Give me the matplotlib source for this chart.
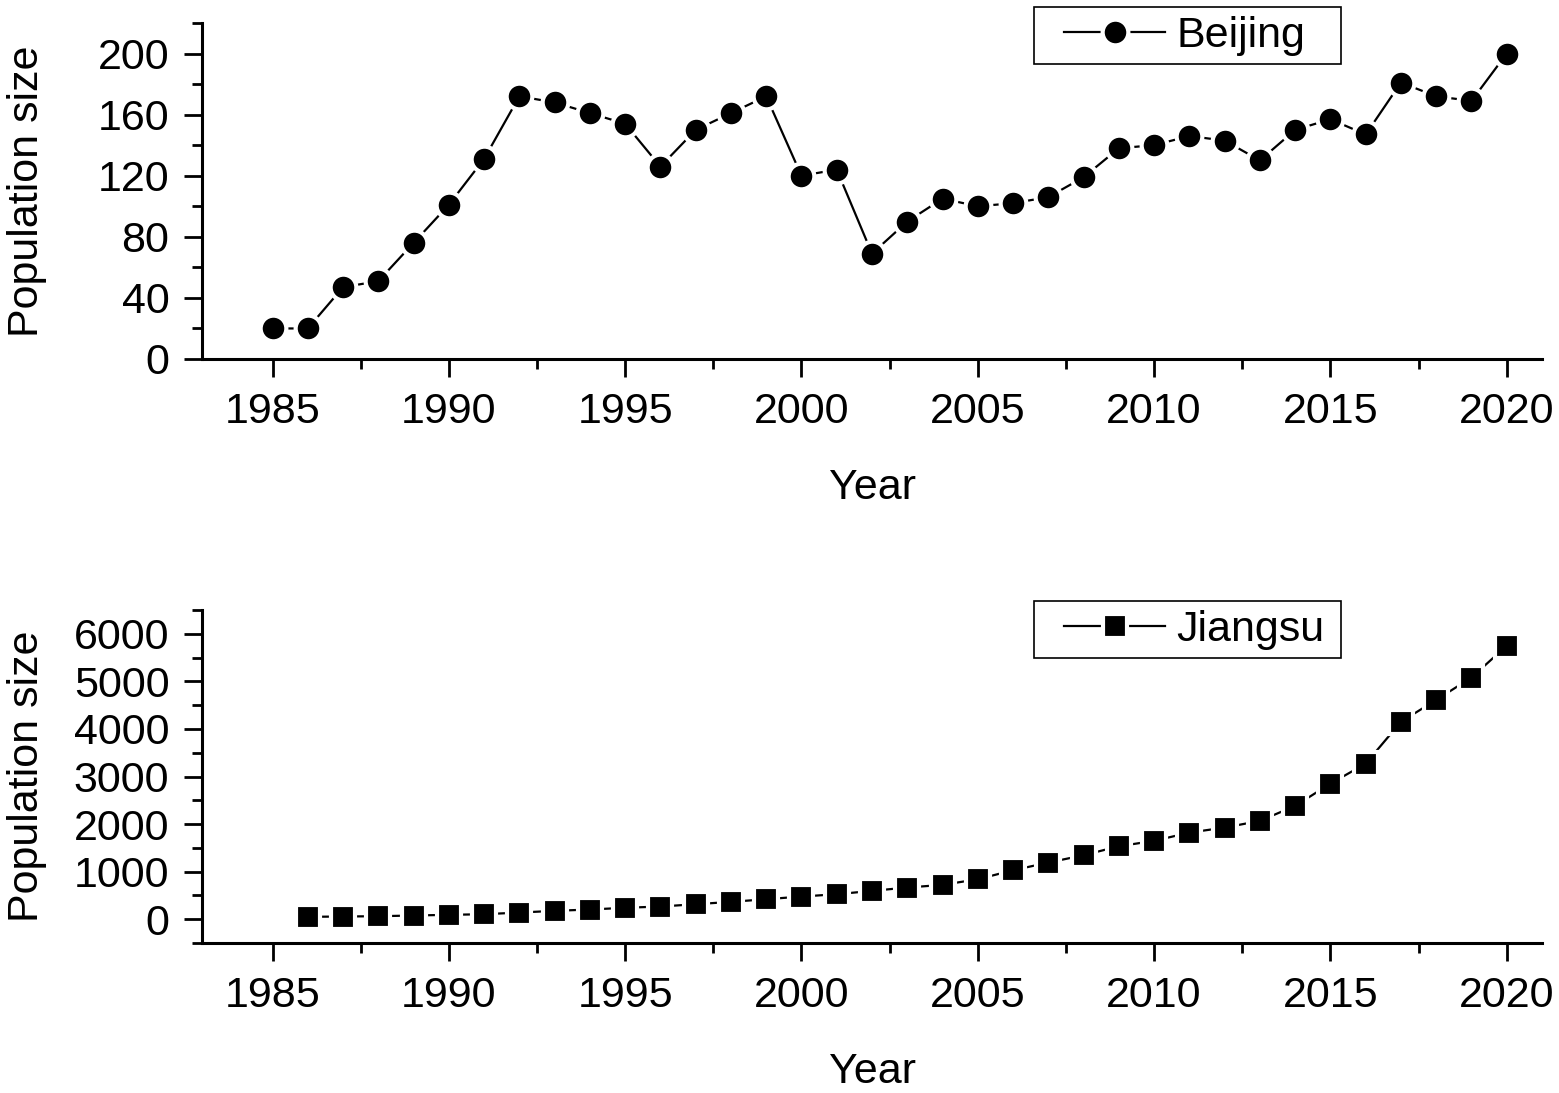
import numpy as np
import matplotlib.pyplot as plt
from matplotlib.ticker import MultipleLocator
from matplotlib.legend_handler import HandlerLine2D

plt.rcParams['font.family'] = ['Liberation Sans', 'DejaVu Sans']

W, H = 1559, 1093

# data
years_bj = list(range(1985, 2021))
beijing = [20, 20, 47, 51, 76, 101, 131, 172, 168, 161, 154, 126, 150, 161, 172,
           120, 124, 69, 90, 105, 100, 102, 106, 119, 138, 140, 146, 143, 130,
           150, 157, 147, 181, 172, 169, 200]

years_js = list(range(1986, 2021))
jiangsu = [50, 57, 63, 78, 92, 105, 140, 176, 204, 240, 267, 315, 365, 420, 477,
           525, 596, 666, 722, 840, 1029, 1191, 1345, 1534, 1647, 1821, 1926,
           2067, 2382, 2850, 3270, 4150, 4610, 5080, 5750]

fig = plt.figure(figsize=(W / 100, H / 100), dpi=100)
ax1 = fig.add_axes([202 / W, 1 - 359 / H, 1340 / W, 336 / H])
ax2 = fig.add_axes([202 / W, 1 - 943 / H, 1340 / W, 333 / H])


def style_axis(ax, ylim, ymaj, ymin):
    ax.set_xlim(1983, 2021)
    ax.set_ylim(*ylim)
    ax.xaxis.set_major_locator(MultipleLocator(5))
    ax.xaxis.set_minor_locator(MultipleLocator(2.5))
    ax.yaxis.set_major_locator(MultipleLocator(ymaj))
    ax.yaxis.set_minor_locator(MultipleLocator(ymin))
    for s in ['top', 'right']:
        ax.spines[s].set_visible(False)
    for s in ['left', 'bottom']:
        ax.spines[s].set_linewidth(2.2)
    ax.tick_params(which='major', direction='out', length=13, width=2,
                   labelsize=31, pad=10.5)
    ax.tick_params(which='minor', direction='out', length=7, width=2)
    ax.set_xlabel('Year', fontsize=31, labelpad=26)
    ax.set_ylabel('Population size', fontsize=31)
    ax.yaxis.set_label_coords(-0.1157, 0.5)


def add_legend(ax, line, top_px):
    leg = ax.legend(loc='upper left',
                    bbox_to_anchor=(1034 / W, 0.3, 307 / W, (1 - top_px / H) - 0.3),
                    bbox_transform=fig.transFigure, mode='expand',
                    borderaxespad=0, borderpad=0.2, handlelength=2.85,
                    handletextpad=0.25, fontsize=31, fancybox=False,
                    framealpha=1, edgecolor='black',
                    handler_map={line: HandlerLine2D(xpad=0.5)})
    leg.get_frame().set_linewidth(1.2)
    return leg


l1, = ax1.plot(years_bj, beijing, color='black', lw=1.6, marker='o', ms=18.5,
               mfc='black', mec='white', mew=3, label='Beijing')
style_axis(ax1, (0, 220), 40, 20)
add_legend(ax1, l1, 7)

l2, = ax2.plot(years_js, jiangsu, color='black', lw=1.6, marker='s', ms=17.4,
               mfc='black', mec='white', mew=3, label='Jiangsu')
style_axis(ax2, (-500, 6500), 1000, 500)
add_legend(ax2, l2, 601)

fig.savefig('out.png', dpi=100)
